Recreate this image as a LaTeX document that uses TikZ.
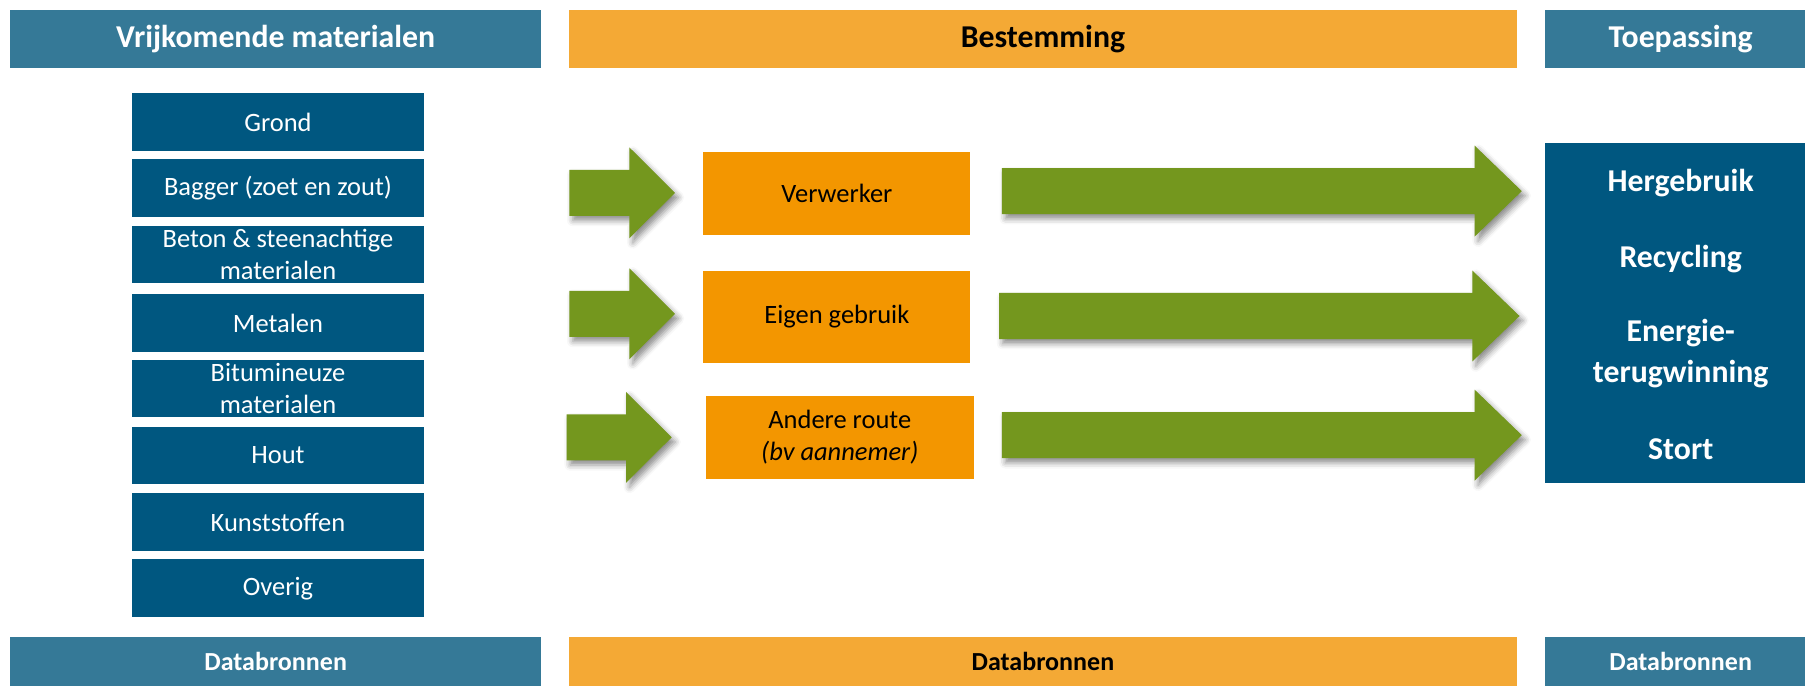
\documentclass[tikz,border=0pt]{standalone}
\usepackage{fontspec}
\setmainfont{Carlito}
\usetikzlibrary{shadows.blur}

\definecolor{headblue}{RGB}{53,121,151}
\definecolor{boxblue}{RGB}{0,87,128}
\definecolor{headorange}{RGB}{244,169,53}
\definecolor{boxorange}{RGB}{243,150,0}
\definecolor{arrowgreen}{RGB}{116,151,30}

% Block arrow: tail x, head base x, tip x, centre y
\newcommand\greenarrow[4]{%
  \fill[arrowgreen, flowshadow]
    (#1,#4-20) -- (#2,#4-20) -- (#2,#4-39.5) -- (#3,#4)
    -- (#2,#4+39.5) -- (#2,#4+20) -- (#1,#4+20) -- cycle;}

\begin{document}
\begin{tikzpicture}[x=0.5pt,y=-0.5pt,
  every node/.style={inner sep=0pt, outer sep=0pt},
  tophead/.style={minimum height=25pt, font=\fontsize{13.8}{16.5}\selectfont\bfseries},
  bothead/.style={minimum height=21.5pt, font=\fontsize{11.3}{13.5}\selectfont\bfseries},
  bluehead/.style={fill=headblue, text=white},
  orangehead/.style={fill=headorange, text=black},
  matbox/.style={fill=boxblue, text=white, minimum width=126.5pt, minimum height=25pt,
    align=center, font=\fontsize{11.5}{13.8}\selectfont},
  destbox/.style={fill=boxorange, text=black, align=center,
    font=\fontsize{11.5}{13.8}\selectfont},
  usetext/.style={text=white, align=center, font=\fontsize{13.8}{17.5}\selectfont\bfseries},
  flowshadow/.style={blur shadow={shadow xshift=1.5pt, shadow yshift=-2pt,
    shadow blur radius=2.5pt, shadow opacity=45}}
]
\useasboundingbox (0,0) rectangle (1568,596);

% column headers (the right column runs past the page edge)
\node[tophead, bluehead, minimum width=230.5pt] (hvrij) at (239.5,34) {Vrijkomende materialen};
\node[tophead, orangehead, minimum width=412pt] (hbest) at (906,34) {Bestemming};
\node[tophead, bluehead, minimum width=118pt] (htoep) at (1460,34) {Toepassing};

% data sources footers
\node[bothead, bluehead, minimum width=230.5pt] (dvrij) at (239.5,574.5) {Databronnen};
\node[bothead, orangehead, minimum width=412pt] (dbest) at (906,574.5) {Databronnen};
\node[bothead, bluehead, minimum width=118pt] (dtoep) at (1460,574.5) {Databronnen};

% released materials
\node[matbox] (grond)  at (241.5,106)   {Grond};
\node[matbox] (bagger) at (241.5,163.5) {Bagger (zoet en zout)};
\node[matbox] (beton)  at (241.5,221)   {Beton \& steenachtige\\materialen};
\node[matbox] (metaal) at (241.5,280.5) {Metalen};
\node[matbox] (bitum)  at (241.5,337.5) {Bitumineuze\\materialen};
\node[matbox] (hout)   at (241.5,395.5) {Hout};
\node[matbox] (kunst)  at (241.5,453.5) {Kunststoffen};
\node[matbox] (overig) at (241.5,511)   {Overig};

% destinations
\node[destbox, minimum width=116pt, minimum height=36pt] (verw) at (727,168) {Verwerker};
\node[destbox, minimum width=116pt, minimum height=40pt] (eigen) at (727,275) {Eigen gebruik};
\node[destbox, minimum width=116.5pt, minimum height=36pt] (ander) at (729.5,380)
  {Andere route\\\textit{(bv aannemer)}};

% applications
\node[fill=boxblue, minimum width=118pt, minimum height=148pt] (toep) at (1460,272) {};
\node[usetext, anchor=base] (herg) at (1460,166) {Hergebruik};
\node[usetext, anchor=base] (recy) at (1460,232) {Recycling};
\node[usetext] (energ) at (1460,307) {Energie-\\terugwinning};
\node[usetext, anchor=base] (stort) at (1460,399) {Stort};

% incoming flows
\greenarrow{494.6}{546.7}{586.4}{167.5}
\greenarrow{494.6}{546.7}{586.4}{272.6}
\greenarrow{492.3}{543.8}{583.5}{379.9}

% outgoing flows
\greenarrow{870.3}{1281}{1322}{166}
\greenarrow{868}{1279}{1320}{274.5}
\greenarrow{870.3}{1281}{1322}{378}
\end{tikzpicture}
\end{document}
